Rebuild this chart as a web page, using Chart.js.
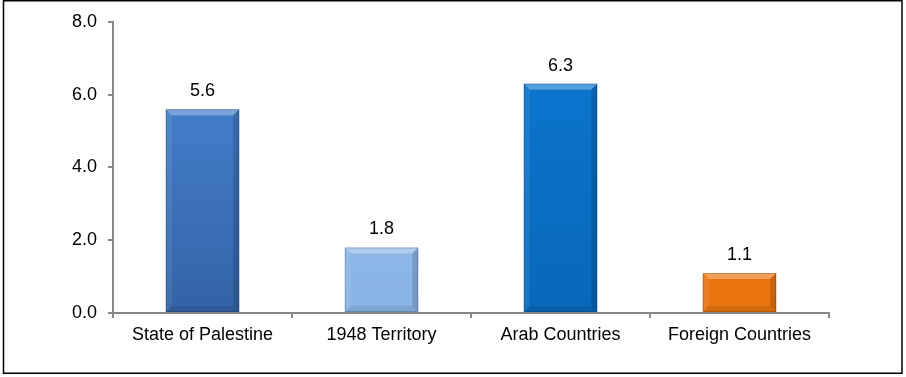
<!DOCTYPE html>
<html>
<head>
<meta charset="utf-8">
<script src="https://cdn.jsdelivr.net/npm/chart.js@4"></script>
<style>
html,body{margin:0;padding:0;background:#fff;}
#wrap{position:relative;width:906px;height:377px;}
</style>
</head>
<body>
<div id="wrap"><canvas id="c" width="906" height="377"></canvas></div>
<script>
const categories = ["State of Palestine", "1948 Territory", "Arab Countries", "Foreign Countries"];
const values = [5.6, 1.8, 6.3, 1.1];
const topColors = ["#4b88d6", "#9cc3f0", "#0b78d2", "#f5821f"];
const bottomColors = ["#3363a6", "#8ab3e6", "#0868bb", "#e8730f"];
const yTicks = [0, 2, 4, 6, 8];

const FONT = '"Liberation Sans", Arial, sans-serif';

const frame = {
  id: 'frame',
  beforeDraw(chart) {
    const ctx = chart.ctx;
    ctx.save();
    ctx.fillStyle = '#fff';
    ctx.fillRect(0, 0, chart.width, chart.height);
    ctx.restore();
  },
  afterDraw(chart) {
    const ctx = chart.ctx;
    ctx.save();
    ctx.strokeStyle = '#000';
    ctx.lineWidth = 1.5;
    ctx.strokeRect(3.5, 0.75, 898.5, 372.5);
    ctx.restore();
  }
};

const bevel = {
  id: 'bevel',
  afterDatasetsDraw(chart) {
    const ctx = chart.ctx;
    const meta = chart.getDatasetMeta(0);
    ctx.save();
    meta.data.forEach((bar, i) => {
      const l = bar.x - bar.width / 2, r = bar.x + bar.width / 2;
      const t = bar.y, b = bar.base;
      const d = 6;
      ctx.fillStyle = 'rgba(255,255,255,0.30)';
      ctx.beginPath();
      ctx.moveTo(l, t); ctx.lineTo(r, t); ctx.lineTo(r - d, t + d); ctx.lineTo(l + d, t + d); ctx.closePath(); ctx.fill();
      ctx.fillStyle = 'rgba(255,255,255,0.08)';
      ctx.beginPath();
      ctx.moveTo(l, t); ctx.lineTo(l + d, t + d); ctx.lineTo(l + d, b - d); ctx.lineTo(l, b); ctx.closePath(); ctx.fill();
      ctx.fillStyle = 'rgba(0,0,0,0.15)';
      ctx.beginPath();
      ctx.moveTo(r, t); ctx.lineTo(r - d, t + d); ctx.lineTo(r - d, b - d); ctx.lineTo(r, b); ctx.closePath(); ctx.fill();
      ctx.fillStyle = 'rgba(0,0,0,0.08)';
      ctx.beginPath();
      ctx.moveTo(l, b); ctx.lineTo(l + d, b - d); ctx.lineTo(r - d, b - d); ctx.lineTo(r, b); ctx.closePath(); ctx.fill();
      ctx.strokeStyle = 'rgba(0,0,0,0.18)';
      ctx.lineWidth = 1;
      ctx.strokeRect(l + 0.5, t + 0.5, bar.width - 1, b - t - 1);
      ctx.fillStyle = '#000';
      ctx.font = '18px ' + FONT;
      ctx.textAlign = 'center';
      ctx.textBaseline = 'middle';
      ctx.fillText(values[i].toFixed(1), bar.x, t - 18);
    });
    ctx.restore();
  }
};

new Chart(document.getElementById('c'), {
  type: 'bar',
  data: {
    labels: categories,
    datasets: [{
      data: values,
      backgroundColor: (ctx) => {
        const chart = ctx.chart;
        const ca = chart.chartArea;
        if (!ca) return topColors[ctx.dataIndex];
        const el = ctx.element;
        const y0 = el && isFinite(el.y) ? el.y : ca.top;
        const y1 = el && isFinite(el.base) ? el.base : ca.bottom;
        const g = chart.ctx.createLinearGradient(0, y0, 0, y1);
        g.addColorStop(0, topColors[ctx.dataIndex]);
        g.addColorStop(1, bottomColors[ctx.dataIndex]);
        return g;
      },
      borderWidth: 0,
      barPercentage: 0.82,
      categoryPercentage: 0.5
    }]
  },
  options: {
    responsive: false,
    animation: false,
    devicePixelRatio: 1,
    layout: { padding: { left: 0, right: 77, top: 20, bottom: 0 } },
    plugins: { legend: { display: false }, tooltip: { enabled: false } },
    scales: {
      x: {
        grid: { display: true, drawOnChartArea: false, drawTicks: true, tickLength: 5, color: '#878787', lineWidth: 2, offset: true },
        border: { display: true, color: '#878787', width: 2 },
        ticks: { color: '#000', font: { family: FONT, size: 18 }, padding: 6, maxRotation: 0 },
        afterFit: (s) => { s.height = 64; }
      },
      y: {
        min: 0, max: 8,
        afterBuildTicks: (s) => { s.ticks = yTicks.map(v => ({ value: v })); },
        grid: { display: true, drawOnChartArea: false, drawTicks: true, tickLength: 5, color: '#878787', lineWidth: 2 },
        border: { display: true, color: '#878787', width: 2 },
        ticks: { color: '#000', font: { family: FONT, size: 18 }, padding: 11, callback: (v) => Number(v).toFixed(1) },
        afterFit: (s) => { s.width = 113; }
      }
    }
  },
  plugins: [frame, bevel]
});
</script>
</body>
</html>
